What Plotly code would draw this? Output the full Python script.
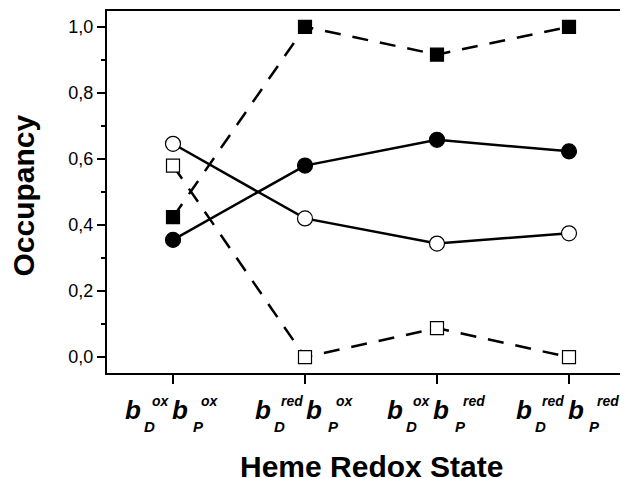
import plotly.graph_objects as go

# ---- data ----
states = ["ox|ox", "red|ox", "ox|red", "red|red"]
d_state = ["ox", "red", "ox", "red"]
p_state = ["ox", "ox", "red", "red"]
filled_circle = [0.355, 0.58, 0.658, 0.623]
open_circle = [0.646, 0.42, 0.344, 0.375]
filled_square = [0.424, 1.0, 0.916, 1.0]
open_square = [0.58, 0.0, 0.088, 0.0]
y_tickvals = [0.0, 0.2, 0.4, 0.6, 0.8, 1.0]
y_ticktext = ["0,0", "0,2", "0,4", "0,6", "0,8", "1,0"]

FONT = "Liberation Sans, Arial, sans-serif"
DASH = "16px,12px"

fig = go.Figure()

def add(y, symbol, fill, dash, size):
    fig.add_trace(go.Scatter(
        x=states, y=y, mode="lines+markers",
        line=dict(color="black", width=2.5, dash=dash),
        marker=dict(symbol=symbol, size=size, color=fill,
                    line=dict(color="black", width=1.2)),
        showlegend=False, hoverinfo="skip"))

add(filled_square, "square", "black", DASH, 13)
add(open_square, "square", "white", DASH, 13)
add(filled_circle, "circle", "black", "solid", 15)
add(open_circle, "circle", "white", "solid", 15)

# ---- custom tick labels (b_D^x b_P^y) built from annotations ----
cw = {"o": 0.611, "x": 0.556, "r": 0.389, "e": 0.556, "d": 0.611}
def wsup(t, s=14):
    return sum(cw[c] for c in t) * s

anns = []
B_SIZE, SUB_SIZE, SUP_SIZE = 26, 15, 14
Y_B, Y_SUB, Y_SUP = -19.8, -43.4, -17.6
for cat, ds, ps in zip(states, d_state, p_state):
    w1, w2 = wsup(ds), wsup(ps)
    x_b1 = 0.0
    x_sub1 = 19.0
    x_sup1 = 26.5
    x_b2 = x_sup1 + w1 + 3.5
    x_sub2 = x_b2 + 21.5
    x_sup2 = x_b2 + 29.5
    W = x_sup2 + w2
    L = -W / 2.0 - 1.5
    pieces = [("b", B_SIZE, x_b1, Y_B), ("D", SUB_SIZE, x_sub1, Y_SUB),
              (ds, SUP_SIZE, x_sup1, Y_SUP), ("b", B_SIZE, x_b2, Y_B),
              ("P", SUB_SIZE, x_sub2, Y_SUB), (ps, SUP_SIZE, x_sup2, Y_SUP)]
    for txt, sz, xo, yo in pieces:
        anns.append(dict(
            x=cat, xref="x", y=0, yref="paper",
            text="<b><i>%s</i></b>" % txt, showarrow=False,
            xanchor="left", yanchor="top",
            xshift=L + xo - 2, yshift=yo,
            font=dict(family=FONT, size=sz, color="black")))

# axis titles
anns.append(dict(x=1.5, xref="x", y=0, yref="paper", text="<b>Heme Redox State</b>",
                 showarrow=False, xanchor="center", yanchor="top", yshift=-74.8,
                 font=dict(family=FONT, size=30, color="black")))
anns.append(dict(x=0, xref="paper", y=0.5, yref="paper", text="<b>Occupancy</b>",
                 showarrow=False, xanchor="center", yanchor="middle", textangle=-90,
                 xshift=-84.5, yshift=-4,
                 font=dict(family=FONT, size=30, color="black")))

fig.update_layout(
    width=627, height=478,
    margin=dict(l=99, r=0, t=3, b=113),
    paper_bgcolor="white", plot_bgcolor="white",
    annotations=anns,
    font=dict(family=FONT, color="black"),
    xaxis=dict(type="category", range=[-0.5, 3.5], showgrid=False, zeroline=False,
               showline=True, linecolor="black", linewidth=2, mirror=True,
               ticks="outside", ticklen=9, tickwidth=2, tickcolor="black",
               showticklabels=False),
    yaxis=dict(range=[-0.048, 1.048], showgrid=False, zeroline=False,
               showline=True, linecolor="black", linewidth=2,
               tickvals=y_tickvals, ticktext=y_ticktext,
               ticks="outside", ticklen=8, tickwidth=1.5, tickcolor="black",
               tickfont=dict(family=FONT, size=18, color="black"),
               minor=dict(dtick=0.1, ticks="outside", ticklen=4, tickwidth=1.5,
                          tickcolor="black", showgrid=False)),
)

fig.write_html("out.html")
